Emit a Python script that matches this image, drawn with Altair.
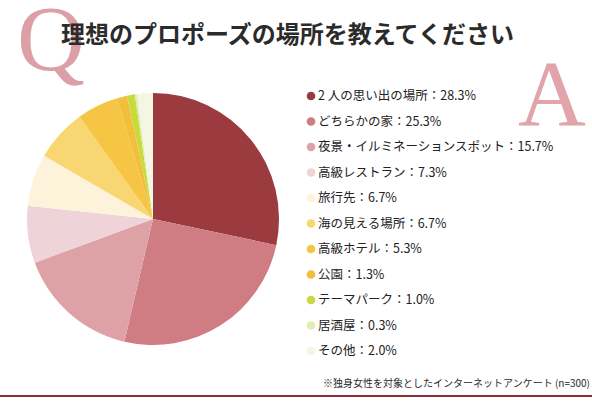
import altair as alt
import pandas as pd

labels = ["2 人の思い出の場所", "どちらかの家", "夜景・イルミネーションスポット", "高級レストラン",
          "旅行先", "海の見える場所", "高級ホテル", "公園", "テーマパーク", "居酒屋", "その他"]
values = [28.3, 25.3, 15.7, 7.3, 6.7, 6.7, 5.3, 1.3, 1.0, 0.3, 2.0]
colors = ["#9b3b40", "#cf7c82", "#dea2a6", "#eed3d8", "#fcf3da", "#f8d772",
          "#f6c544", "#f2bf3c", "#c8da3c", "#e2edb5", "#f2f6e2"]
title = "理想のプロポーズの場所を教えてください"
note = "※独身女性を対象としたインターネットアンケート (n=300)"

df = pd.DataFrame({
    "label": labels,
    "value": values,
    "idx": list(range(len(labels))),
})
df["text"] = [f"{l}：{v:.1f}%" for l, v in zip(labels, values)]

W, H = 592, 401
JP = "Noto Sans CJK JP"
color_scale = alt.Scale(domain=labels, range=colors)

base = alt.Chart(df)

pie = base.mark_arc(radius=126, stroke=None).encode(
    theta=alt.Theta("value:Q", stack=True),
    color=alt.Color("label:N", scale=color_scale, legend=None),
    order=alt.Order("idx:Q"),
    x=alt.value(153), y=alt.value(219),
)

ypos = alt.Y("idx:Q", scale=alt.Scale(domain=[0, 10], range=[96, 351]), axis=None)

dots = base.mark_circle(size=75, opacity=1).encode(
    x=alt.value(311), y=ypos,
    color=alt.Color("label:N", scale=color_scale, legend=None),
)

legend_text = base.mark_text(align="left", baseline="middle", font=JP, fontSize=12.5,
                             color="#222222").encode(
    x=alt.value(318), y=ypos, text="text:N",
)

q_letter = alt.Chart(pd.DataFrame({"t": ["Q"]})).mark_text(
    font="Liberation Serif", fontSize=94, color="#dc9fa6", align="left", baseline="alphabetic"
).encode(x=alt.value(17), y=alt.value(70), text="t:N")

a_letter = alt.Chart(pd.DataFrame({"t": ["A"]})).mark_text(
    font="Liberation Serif", fontSize=94, color="#e2a4ab", align="left", baseline="alphabetic"
).encode(x=alt.value(518), y=alt.value(125), text="t:N")

title_text = alt.Chart(pd.DataFrame({"t": [title]})).mark_text(
    font=JP, fontSize=24, fontWeight="bold", color="#2b2b2b", align="left", baseline="middle"
).encode(x=alt.value(61), y=alt.value(36), text="t:N")

note_text = alt.Chart(pd.DataFrame({"t": [note]})).mark_text(
    font=JP, fontSize=10, color="#2b2b2b", align="right", baseline="middle"
).encode(x=alt.value(590), y=alt.value(384), text="t:N")

bottom_rule = alt.Chart(pd.DataFrame({"a": [0]})).mark_rule(color="#8b2c3b", strokeWidth=2).encode(
    x=alt.value(0), x2=alt.value(W), y=alt.value(396)
)

chart = alt.layer(
    q_letter, title_text, a_letter, pie, dots, legend_text, note_text, bottom_rule
).properties(
    width=W, height=H, padding=0, autosize=alt.AutoSizeParams(type="none"),
    background="white",
).configure_view(stroke=None)

chart.save("out.html", embed_options={"renderer": "svg", "actions": False})
